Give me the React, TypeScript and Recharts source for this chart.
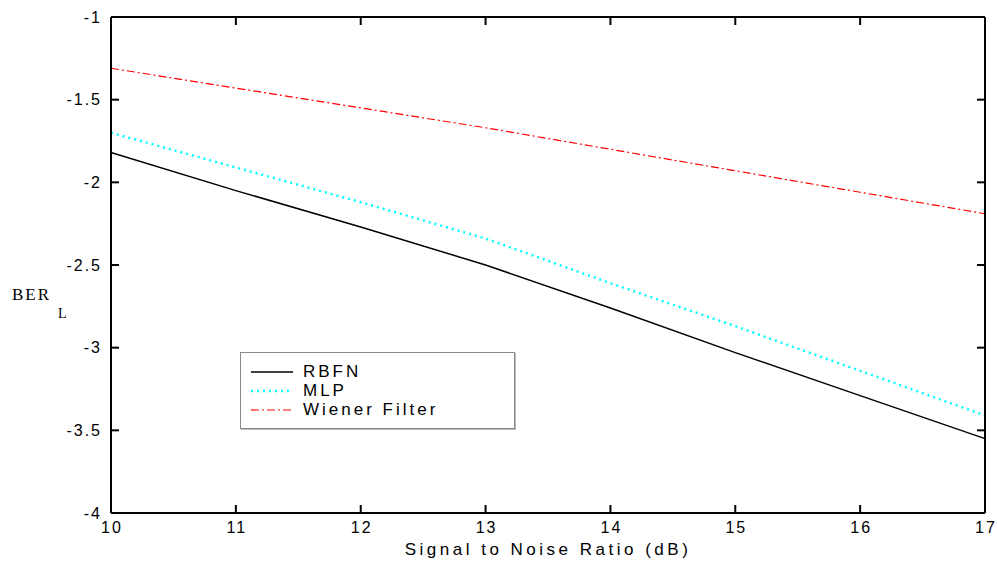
import React from "react";
import { LineChart, Line, XAxis, YAxis, ReferenceLine } from "recharts";

// values
const snr = [10, 11, 12, 13, 14, 15, 16, 17];
const rbfn = [-1.82, -2.05, -2.27, -2.5, -2.76, -3.03, -3.29, -3.55];
const mlp = [-1.7, -1.91, -2.12, -2.34, -2.61, -2.87, -3.14, -3.41];
const wiener = [-1.31, -1.43, -1.55, -1.67, -1.8, -1.93, -2.06, -2.19];
const yTicks = [-4, -3.5, -3, -2.5, -2, -1.5, -1];

const series = [
  { key: "rbfn", name: "RBFN", color: "#000000", dash: undefined, width: 1.5 },
  { key: "mlp", name: "MLP", color: "#00ffff", dash: "2 4", width: 2.5 },
  { key: "wiener", name: "Wiener Filter", color: "#ff0000", dash: "8 3 2 3", width: 1.2 },
];

const data = snr.map((x, i) => ({ snr: x, rbfn: rbfn[i], mlp: mlp[i], wiener: wiener[i] }));

const W = 997;
const H = 562;
const M = { top: 17, right: 12, bottom: 49, left: 111 };
const X_DOM: [number, number] = [10, 17];
const Y_DOM: [number, number] = [-4, -1];
const TICK = 8;
// inward tick length converted to data units
const xTickLen = ((X_DOM[1] - X_DOM[0]) * TICK) / (W - M.left - M.right);
const yTickLen = ((Y_DOM[1] - Y_DOM[0]) * TICK) / (H - M.top - M.bottom);

const sans = "Arial, 'Liberation Sans', sans-serif";
const axisLine = { stroke: "#000", strokeWidth: 2 };

function LeftTick({ x, y, payload }: any) {
  return (
    <text x={x + 2} y={y} textAnchor="end" dominantBaseline="central" fontSize={16} fontFamily={sans} letterSpacing={2} fill="#000">
      {payload.value}
    </text>
  );
}

function BottomTick({ x, y, payload }: any) {
  return (
    <text x={x + 1} y={y + 20} textAnchor="middle" fontSize={16} fontFamily={sans} letterSpacing={2} fill="#000">
      {payload.value}
    </text>
  );
}

function BerLabel() {
  return (
    <g fontFamily="'Liberation Serif', 'Times New Roman', serif" fill="#000">
      <text x={12} y={300} fontSize={17} letterSpacing={2}>
        BER
      </text>
      <text x={58} y={318} fontSize={14}>
        L
      </text>
    </g>
  );
}

function LegendBox() {
  return (
    <div
      style={{
        position: "absolute",
        left: 240,
        top: 352,
        width: 275,
        height: 77,
        border: "1px solid #888",
        boxShadow: "1px 1px 0 #bbb",
        background: "#fff",
        fontFamily: sans,
        fontSize: 17,
        letterSpacing: 3,
        paddingTop: 9,
        boxSizing: "border-box",
      }}
    >
      {series.map((s) => (
        <div key={s.key} style={{ display: "flex", alignItems: "center", height: 19 }}>
          <svg width={62} height={19} style={{ flex: "none" }}>
            <line x1={10} x2={52} y1={10} y2={10} stroke={s.color} strokeWidth={s.width} strokeDasharray={s.dash} />
          </svg>
          <span style={{ lineHeight: "19px" }}>{s.name}</span>
        </div>
      ))}
    </div>
  );
}

export default function App() {
  const tickSegs = [
    ...snr.map((t) => [{ x: t, y: Y_DOM[0] }, { x: t, y: Y_DOM[0] + yTickLen }]),
    ...snr.map((t) => [{ x: t, y: Y_DOM[1] }, { x: t, y: Y_DOM[1] - yTickLen }]),
    ...yTicks.map((t) => [{ x: X_DOM[0], y: t }, { x: X_DOM[0] + xTickLen, y: t }]),
    ...yTicks.map((t) => [{ x: X_DOM[1], y: t }, { x: X_DOM[1] - xTickLen, y: t }]),
  ];

  return (
    <div style={{ position: "absolute", left: 0, top: 0, width: W, height: H, background: "#fff" }}>
      <LineChart width={W} height={H} data={data} margin={{ top: 0, right: 0, bottom: 0, left: 0 }}>
        <XAxis
          dataKey="snr"
          type="number"
          domain={X_DOM}
          ticks={snr}
          height={M.bottom}
          tickSize={0}
          tickMargin={0}
          tick={<BottomTick />}
          tickLine={false}
          axisLine={axisLine}
          label={{
            value: "Signal to Noise Ratio (dB)",
            position: "insideBottom",
            offset: 7,
            style: { fontSize: 17, fill: "#000", fontFamily: sans, letterSpacing: 3.5 },
          }}
        />
        <XAxis
          xAxisId="top"
          orientation="top"
          dataKey="snr"
          type="number"
          domain={X_DOM}
          ticks={snr}
          height={M.top}
          tickSize={0}
          tick={false}
          tickLine={false}
          axisLine={axisLine}
        />
        <YAxis
          type="number"
          domain={Y_DOM}
          ticks={yTicks}
          width={M.left}
          tickSize={0}
          tickMargin={11}
          tick={<LeftTick />}
          tickLine={false}
          axisLine={axisLine}
          label={() => <BerLabel />}
        />
        <YAxis
          yAxisId="right"
          orientation="right"
          type="number"
          domain={Y_DOM}
          ticks={yTicks}
          width={M.right}
          tickSize={0}
          tick={false}
          tickLine={false}
          axisLine={axisLine}
        />
        {tickSegs.map((seg, i) => (
          <ReferenceLine key={"t" + i} segment={seg} stroke="#000" strokeWidth={2} />
        ))}
        {series.map((s) => (
          <Line
            key={s.key}
            type="linear"
            dataKey={s.key}
            name={s.name}
            stroke={s.color}
            strokeWidth={s.width}
            strokeDasharray={s.dash}
            dot={false}
            activeDot={false}
            isAnimationActive={false}
          />
        ))}
      </LineChart>
      <LegendBox />
    </div>
  );
}
